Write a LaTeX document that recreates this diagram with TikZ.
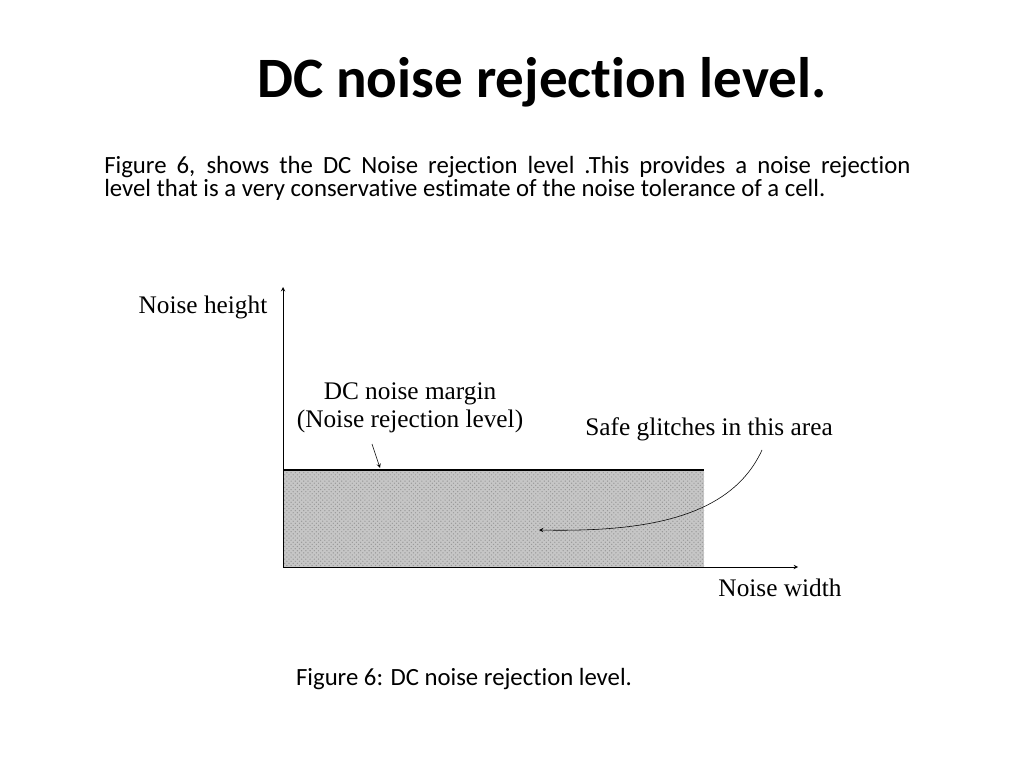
\documentclass[tikz,border=0pt]{standalone}
\usepackage{fontspec}
\setmainfont[Ligatures=NoCommon]{Carlito}
\newfontfamily\figfont{Liberation Serif}
\usetikzlibrary{patterns}
\tikzset{
  axisline/.style={->, >=stealth, thin},
  figlabel/.style={font=\figfont\fontsize{18}{20}\selectfont, inner sep=0pt},
}
\begin{document}
\begin{tikzpicture}[x=0.025cm, y=-0.025cm]
        % Page frame
        \useasboundingbox (0,0) rectangle (1024,768);

        % Title and text
        \node (title) at (542,82) {\fontsize{40.6}{46}\selectfont\bfseries DC noise rejection level.};
        \node (para) [anchor=north west, text width=20.15cm, align=justify, inner sep=0pt]
            at (104,156) {\fontsize{17.6}{21.3}\selectfont Figure 6, shows the DC Noise rejection level .This provides a noise rejection\linebreak level that is a very conservative estimate of the noise tolerance of a cell.};

        % Safe area
        \fill[gray!45] (283,470) rectangle (704,567);
        \fill[pattern=crosshatch dots, pattern color=gray!80] (283,470) rectangle (704,567);
        \draw[line width=1.6pt] (283,470) -- (704,470);

        % Axes
        \coordinate (origin) at (283,567);
        \coordinate (ytop) at (283,287);
        \coordinate (xend) at (798,567);
        \draw[axisline] (origin) -- (ytop);
        \draw[axisline] (origin) -- (xend);

        % Labels
        \node[figlabel] (height) at (203,307) {Noise height};
        \node[figlabel] (width) at (780,588) {Noise width};
        \node[figlabel, align=center] (margin) at (410,408) {DC noise margin\\(Noise rejection level)};
        \node[figlabel] (safe) at (709,429) {Safe glitches in this area};

        % Pointers
        \coordinate (marginpt) at (380,468);
        \coordinate (glitchpt) at (539,530);
        \draw[axisline] (372,444) -- (marginpt);
        \draw[axisline] (762,450) .. controls (730,520) and (640,532) .. (glitchpt);

        % Caption
        \node (caption) at (464,679) {\fontsize{17.6}{20}\selectfont Figure 6: DC noise rejection level.};
\end{tikzpicture}
\end{document}
